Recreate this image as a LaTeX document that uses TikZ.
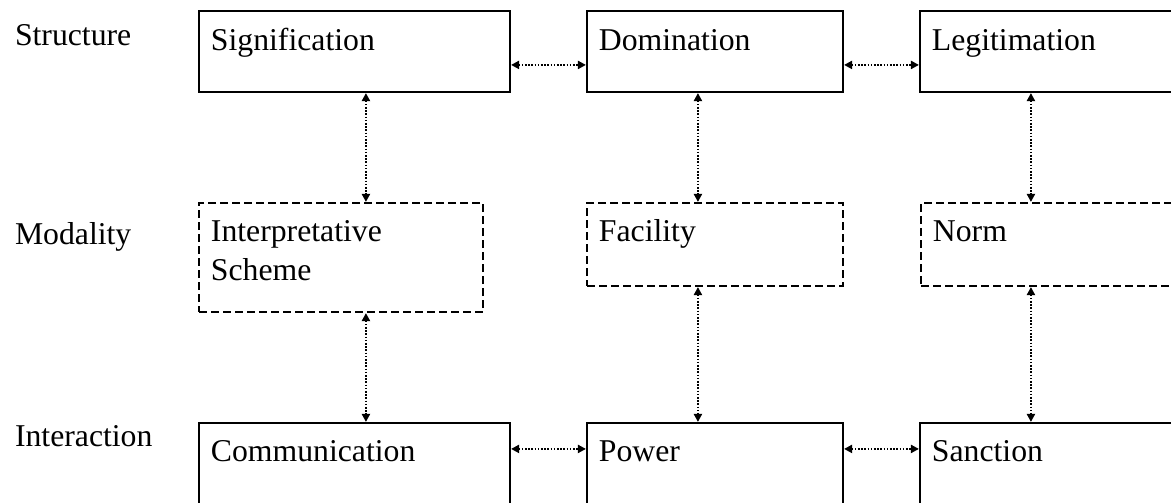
\documentclass[tikz,border=0pt]{standalone}
\usepackage{fontspec}
\setmainfont{Liberation Serif}
\usetikzlibrary{calc}
\usetikzlibrary{fit}
\usetikzlibrary{arrows.meta}
\tikzset{every picture/.style={line width=1.5pt}}
\tikzset{
  solidbox/.style={draw, rectangle, inner sep=0pt, line width=1.6pt},
  dashbox/.style={solidbox, dash pattern=on 6pt off 3pt},
  boxtext/.style={anchor=base west, inner sep=0pt, align=left, font=\fontsize{23.8}{29.25}\selectfont},
  link/.style={{Triangle[length=6pt,width=6pt]}-{Triangle[length=6pt,width=6pt]}, line width=1.5pt, dash pattern=on 1.2pt off 1.2pt}
}

\begin{document}
\begin{tikzpicture}[x=0.75pt,y=0.75pt,yscale=-1,xscale=1]
\useasboundingbox (0,0) rectangle (1171,503);
\clip (0,0) rectangle (1171,503);

%Structure row
\node[solidbox, fit={(199,11) (510,92)}] (sig) {};
\node[solidbox, fit={(587,11) (843,92)}] (dom) {};
\node[solidbox, fit={(920,11) (1185,92)}] (leg) {};
%Modality row
\node[dashbox, fit={(199,203) (483,312)}] (interp) {};
\node[dashbox, fit={(587,203) (843,286)}] (fac) {};
\node[dashbox, fit={(921,203) (1185,286)}] (norm) {};
%Interaction row
\node[solidbox, fit={(199,423) (510,520)}] (comm) {};
\node[solidbox, fit={(587,423) (843,520)}] (pow) {};
\node[solidbox, fit={(920,423) (1185,520)}] (sanc) {};

% Row names
\node[boxtext] (structure) at (14,46) {Structure};
\node[boxtext] (modality) at (14,244) {Modality};
\node[boxtext] (interaction) at (14,446) {Interaction};

% Box texts (base = last line)
\node[boxtext] (sigtext) at ($(sig.north west)+(12,41)$) {Signification};
\node[boxtext] (domtext) at ($(dom.north west)+(12,41)$) {Domination};
\node[boxtext] (legtext) at ($(leg.north west)+(12,41)$) {Legitimation};
\node[boxtext] (interptext) at ($(interp.north west)+(12,79)$) {Interpretative\\Scheme};
\node[boxtext] (factext) at ($(fac.north west)+(12,40)$) {Facility};
\node[boxtext] (normtext) at ($(norm.north west)+(12,40)$) {Norm};
\node[boxtext] (commtext) at ($(comm.north west)+(12,40)$) {Communication};
\node[boxtext] (powtext) at ($(pow.north west)+(12,40)$) {Power};
\node[boxtext] (sanctext) at ($(sanc.north west)+(12,40)$) {Sanction};

% Horizontal links
\draw[link] ($(sig.north east)+(0,55)$) -- ($(dom.north west)+(0,55)$);
\draw[link] ($(dom.north east)+(0,55)$) -- ($(leg.north west)+(0,55)$);
\draw[link] ($(comm.north east)+(0,27)$) -- ($(pow.north west)+(0,27)$);
\draw[link] ($(pow.north east)+(0,27)$) -- ($(sanc.north west)+(0,27)$);

% Vertical links
\draw[link] ($(sig.south west)+(168,0)$) -- ($(interp.north west)+(168,0)$);
\draw[link] ($(interp.south west)+(168,0)$) -- ($(comm.north west)+(168,0)$);
\draw[link] ($(dom.south west)+(112,0)$) -- ($(fac.north west)+(112,0)$);
\draw[link] ($(fac.south west)+(112,0)$) -- ($(pow.north west)+(112,0)$);
\draw[link] ($(leg.south west)+(112,0)$) -- ($(norm.north west)+(111,0)$);
\draw[link] ($(norm.south west)+(111,0)$) -- ($(sanc.north west)+(112,0)$);

\end{tikzpicture}
\end{document}
